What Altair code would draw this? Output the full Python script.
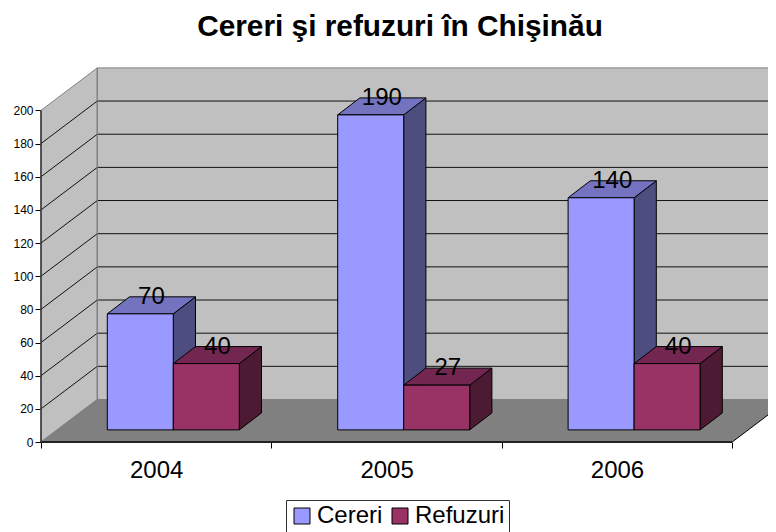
import altair as alt
import pandas as pd

title = "Cereri şi refuzuri în Chişinău"
years = ["2004", "2005", "2006"]
series = ["Cereri", "Refuzuri"]
cereri = [70, 190, 140]
refuzuri = [40, 27, 40]
y_ticks = [0, 20, 40, 60, 80, 100, 120, 140, 160, 180, 200]

front = ["#9999FF", "#993366"]
side = ["#4D4D80", "#4D1A33"]
top = ["#7373BF", "#732650"]
FONT = "Liberation Sans"

# scale geometry (category units on x, value units on y)
PXX, PXY = 230.4, 1.658
W, H = 727, 380
XMAX, YMAX = W / PXX, H / PXY
WX, WY = 56.3 / PXX, 42.5 / PXY      # wall depth
WTOP = 200 + WY
BX, BY = 22.2 / PXX, 17.0 / PXY      # bar depth
B0, BW = 66.3 / PXX, 66.0 / PXX      # bar start, bar width
BASE = 7.3                           # bar foot above front floor edge

sx = alt.Scale(domain=[0, XMAX], nice=False, zero=False)
sy = alt.Scale(domain=[0, YMAX], nice=False, zero=False)

rects, sides, tops, labels = [], [], [], []
for s, vals in enumerate([cereri, refuzuri]):
    for c, v in enumerate(vals):
        l = c + B0 + s * BW
        r = l + BW
        t = BASE + v
        bid = f"{c}-{s}"
        rects.append(dict(series=series[s], x=l, x2=r, y=BASE, y2=t))
        sides += [dict(id=bid, col=side[s], x=r, y=BASE, y2=t),
                  dict(id=bid, col=side[s], x=r + BX, y=BASE + BY, y2=t + BY)]
        tops += [dict(id=bid, col=top[s], y=t, x=l, x2=r),
                 dict(id=bid, col=top[s], y=t + BY, x=l + BX, x2=r + BX)]
        labels.append(dict(t=str(v), x=(l + r + BX) / 2, y=t + BY))

cat_expr = " : ".join(f"datum.value == {i + 0.5} ? '{y}'" for i, y in enumerate(years)) + " : ''"
x_axis = alt.Axis(values=[0, 0.5, 1, 1.5, 2, 2.5, 3], title=None, domain=False, grid=False,
                  labelExpr=cat_expr, labelFont=FONT, labelFontSize=24, labelColor="#000",
                  labelPadding=10, labelAngle=0, labelOverlap=False, labelFlush=False, labelBound=False,
                  tickSize=6, tickColor="#000",
                  tickOpacity={"condition": {"test": "datum.value % 1 != 0", "value": 0}, "value": 1})
y_axis = alt.Axis(values=y_ticks, title=None, domain=False, grid=False, labelFont=FONT,
                  labelFontSize=12, labelColor="#000", labelPadding=2, tickSize=6, tickColor="#000",
                  labelOverlap=False, labelFlush=False, labelBound=False)
X = alt.X("x:Q", scale=sx, axis=x_axis)
Y = alt.Y("y:Q", scale=sy, axis=y_axis)

left_wall = pd.DataFrame([dict(id="left", x=0, y=0, y2=200), dict(id="left", x=WX, y=WY, y2=WTOP)])
back_wall = pd.DataFrame([dict(id="back", x=WX, y=WY, y2=WTOP), dict(id="back", x=XMAX + 0.05, y=WY, y2=WTOP)])
left_layer = alt.Chart(left_wall).mark_area(orient="vertical", fill="#C0C0C0", stroke="#808080",
                                            strokeWidth=1).encode(x=X, y=Y, y2="y2:Q", detail="id:N")
back_layer = alt.Chart(back_wall).mark_area(orient="vertical", fill="#C0C0C0", stroke="#808080",
                                            strokeWidth=1, clip=True).encode(x=X, y=Y, y2="y2:Q", detail="id:N")

floor = pd.DataFrame([dict(y=0, x=0, x2=3), dict(y=WY, x=WX, x2=3 + WX)])
floor_layer = alt.Chart(floor).mark_area(orient="horizontal", fill="#808080", clip=True).encode(
    x=X, x2="x2:Q", y=Y)


def lines(rows):
    return pd.DataFrame([dict(id=i, o=o, x=p[0], y=p[1])
                         for i, pts in enumerate(rows) for o, p in enumerate(pts)])


def line_layer(rows, color, width, clip=False):
    return alt.Chart(lines(rows)).mark_line(color=color, strokeWidth=width, clip=clip).encode(
        x=X, y=Y, detail="id:N", order="o:Q")


grid = line_layer([[(0, v), (WX, v + WY), (XMAX, v + WY)] for v in y_ticks[1:-1]], "#111", 1, True)
edge = line_layer([[(0, 0), (WX, WY)], [(WX, WY), (WX, WTOP)]], "#808080", 1)
right = line_layer([[(3, 0), (3 + WX, WY)]], "#000", 1, True)
y_line = line_layer([[(0, 0), (0, 200)]], "#333", 1.5)
x_line = line_layer([[(0, 0), (3, 0)]], "#222", 2)

side_layer = alt.Chart(pd.DataFrame(sides)).mark_area(orient="vertical", stroke="#000", strokeWidth=1).encode(
    x=X, y=Y, y2="y2:Q", detail="id:N", fill=alt.Fill("col:N", scale=None))
top_layer = alt.Chart(pd.DataFrame(tops)).mark_area(orient="horizontal", stroke="#000", strokeWidth=1).encode(
    y=Y, x=X, x2="x2:Q", detail="id:N", fill=alt.Fill("col:N", scale=None))
front_layer = alt.Chart(pd.DataFrame(rects)).mark_rect(stroke="#000", strokeWidth=1).encode(
    x=X, x2="x2:Q", y=Y, y2="y2:Q",
    fill=alt.Fill("series:N", scale=alt.Scale(domain=series, range=front),
                  legend=alt.Legend(title=None, orient="none", direction="horizontal",
                                    legendX=245, legendY=438, padding=4, fillColor="#FFF",
                                    strokeColor="#333", labelFont=FONT, labelFontSize=24,
                                    labelColor="#000", symbolType="square", symbolSize=256,
                                    symbolStrokeColor="#000", symbolStrokeWidth=1,
                                    symbolOffset=0, labelOffset=3, columnPadding=5)))
text_layer = alt.Chart(pd.DataFrame(labels)).mark_text(font=FONT, fontSize=24, color="#000",
                                                       baseline="middle", align="center").encode(
    x=X, y=Y, text="t:N")

chart = alt.layer(left_layer, back_layer, floor_layer, grid, edge, right, y_line, x_line,
                  side_layer, top_layer, front_layer, text_layer).properties(
    width=W, height=H,
    title=alt.TitleParams(title, font=FONT, fontSize=29.8, fontWeight="bold", color="#000",
                          anchor="middle", dx=-4.5, offset=20),
    padding={"left": 33, "top": 54, "right": 0, "bottom": 90},
    autosize=alt.AutoSizeParams(type="none"),
).configure_view(stroke=None)

chart.save("out.html", embed_options={"renderer": "svg", "actions": False})
